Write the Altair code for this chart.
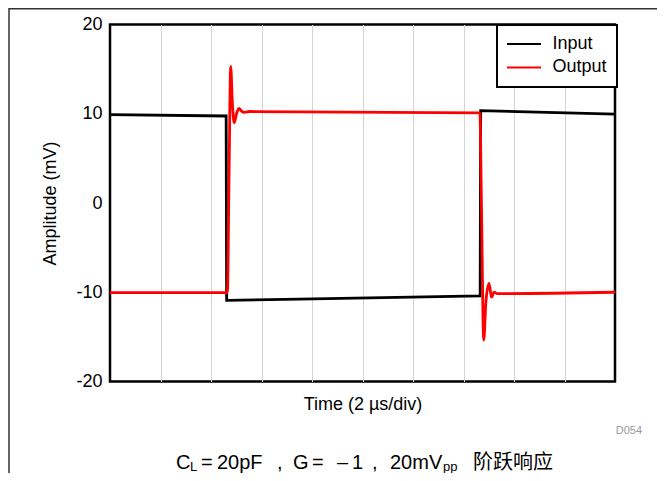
import altair as alt
import pandas as pd

# ---------------- data (time in µs, amplitude in mV) ----------------
series_names = ["Input", "Output"]
series_colors = ["#000000", "#ff0000"]

input_t = [0.0, 4.60, 4.62, 7.50, 14.66, 14.68, 20.0]
input_v = [9.9, 9.75, -10.9, -10.78, -10.4, 10.35, 9.95]

output_t = [0.0, 4.65, 4.71, 4.78, 4.85, 4.92, 5.01, 5.11, 5.21, 5.31, 5.54,
            14.65, 14.71, 14.80, 14.89, 15.01, 15.11, 15.21, 15.33, 20.0]
output_v = [-10.05, -10.05, 2.0, 15.3, 11.0, 9.0, 10.0, 10.6, 10.3, 10.15, 10.25,
            10.1, 0.0, -15.35, -11.0, -9.0, -10.55, -10.0, -10.15, -10.0]

y_ticks = [-20, -10, 0, 10, 20]
x_grid = [2, 4, 6, 8, 10, 12, 14, 16, 18]

x_title = "Time (2 µs/div)"
y_title = "Amplitude (mV)"
figure_id = "D054"

# caption tokens: (text, kind)  n = normal, s = subscript, c = CJK
caption_tokens = [("C", "n"), ("L", "s"), ("=", "n"), ("20pF", "n"), (",", "n"),
                  ("G", "n"), ("=", "n"), ("–", "n"), ("1", "n"), (",", "n"),
                  ("20mV", "n"), ("pp", "s"), ("阶跃响应", "c")]
# layout: page x of each token
caption_x = [176, 190, 201, 217, 277, 293, 312, 337, 352, 372, 390, 443, 473]

FONT = "Liberation Sans"
CJK = "Noto Sans CJK SC"

df_in = pd.DataFrame({"t": input_t, "v": input_v, "s": series_names[0]})
df_out = pd.DataFrame({"t": output_t, "v": output_v, "s": series_names[1]})

PX0, PY0 = 110, 24.5  # plot origin on the page

x_enc = alt.X("t:Q", scale=alt.Scale(domain=[0, 20], nice=False, zero=False),
              axis=alt.Axis(values=x_grid, labels=False, ticks=False, domain=False,
                            grid=True, gridColor="#d4d4d4", gridWidth=1,
                            title=x_title, titleFontSize=18, titleFontWeight="normal",
                            titleY=28, titleBaseline="alphabetic"))
y_enc = alt.Y("v:Q", scale=alt.Scale(domain=[-20, 20], nice=False, zero=False),
              axis=alt.Axis(values=y_ticks, grid=False, ticks=False, domain=False,
                            labelPadding=8, labelFontSize=18,
                            labelExpr="datum.value + ''",
                            title=y_title, titleFontSize=18, titleFontWeight="normal",
                            titleX=-60, titleBaseline="middle"))
color_enc = alt.Color("s:N",
                      scale=alt.Scale(domain=series_names, range=series_colors),
                      legend=alt.Legend(title=None, orient="none", legendX=387, legendY=0.5,
                                        strokeColor="black", fillColor="white",
                                        padding=10, rowPadding=5.4,
                                        symbolType="M-2.125,0H2.125", symbolSize=256,
                                        symbolStrokeWidth=2, symbolOffset=8,
                                        labelOffset=19.4, labelFontSize=18,
                                        labelFont=FONT, labelColor="black"))

line_in = alt.Chart(df_in).mark_line(strokeWidth=2.8, interpolate="linear").encode(
    x=x_enc, y=y_enc, color=color_enc)
line_out = alt.Chart(df_out).mark_line(strokeWidth=2.8, interpolate="monotone").encode(
    x=x_enc, y=y_enc, color=color_enc)


def text_at(s, px, py, size, font=FONT, color="black", align="left"):
    return alt.Chart(alt.Data(values=[{}])).mark_text(
        font=font, fontSize=size, color=color, align=align, baseline="alphabetic"
    ).encode(x=alt.value(px - PX0), y=alt.value(py - PY0), text=alt.value(s))


layers = [line_in, line_out]
for (tok, kind), px in zip(caption_tokens, caption_x):
    if kind == "n":
        layers.append(text_at(tok, px, 469, 20))
    elif kind == "s":
        layers.append(text_at(tok, px, 471, 13))
    else:
        layers.append(text_at(tok, px, 469, 20, font=CJK))

layers.append(text_at(figure_id, 642, 434, 11, color="#999999", align="right"))

# figure frame lines
frame_top = alt.Chart(alt.Data(values=[{}])).mark_rule(color="#333333", strokeWidth=1.5).encode(
    x=alt.value(9 - PX0), x2=alt.value(665 - PX0), y=alt.value(8.75 - PY0))
frame_left = alt.Chart(alt.Data(values=[{}])).mark_rule(color="#333333", strokeWidth=1.5).encode(
    x=alt.value(9 - PX0), y=alt.value(8 - PY0), y2=alt.value(481 - PY0))
layers += [frame_top, frame_left]

chart = alt.layer(*layers).properties(
    width=505, height=357,
    padding={"left": 102, "top": 16.5, "right": 42, "bottom": 91.5},
    autosize=alt.AutoSizeParams(type="none"),
    background="white",
).configure_view(
    stroke="black", strokeWidth=2.5
).configure_axis(
    labelFont=FONT, titleFont=FONT, labelColor="black", titleColor="black"
).configure_legend(strokeWidth=2)

chart.save("out.html", embed_options={"renderer": "svg", "actions": False})
